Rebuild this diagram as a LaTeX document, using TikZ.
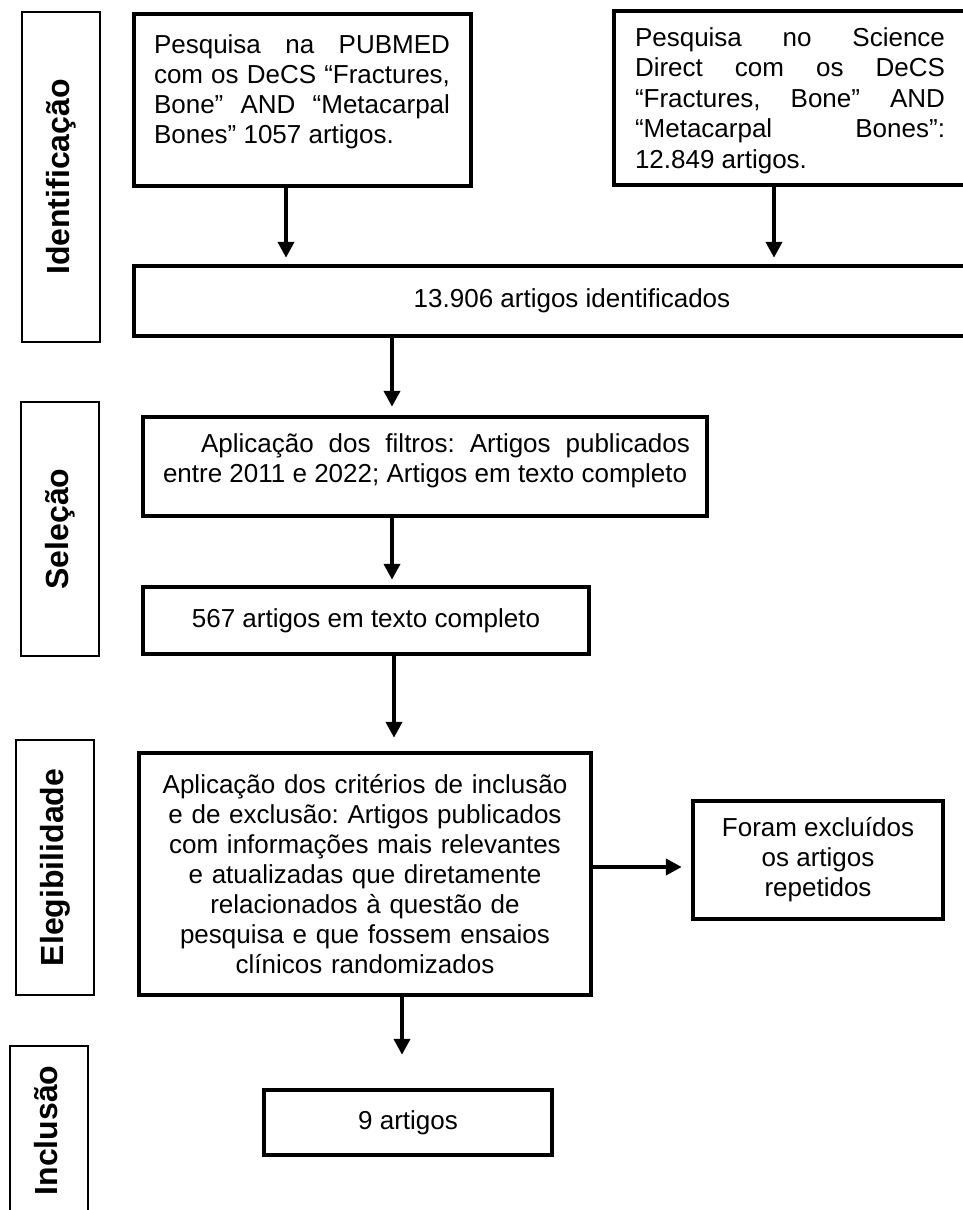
\documentclass[tikz,border=0pt]{standalone}
\usepackage{fontspec}
\setmainfont{Liberation Sans}
\usetikzlibrary{arrows.meta}
\frenchspacing
\begin{document}
\begin{tikzpicture}[x=1pt,y=-1pt,
  box/.style={draw, line width=4.5pt, rectangle, inner sep=0pt, font=\fontsize{26pt}{30pt}\selectfont},
  lab/.style={draw, line width=2pt, rectangle, inner sep=0pt, font=\fontsize{32pt}{36pt}\selectfont\bfseries},
  arr/.style={line width=4pt, -{Triangle[width=16pt,length=16pt]}}]
\useasboundingbox (0,0) rectangle (963,1210);
\clip (0,0) rectangle (963,1210);
\fill[white] (0,0) rectangle (963,1210);

% phase labels
\node[lab, minimum width=78pt, minimum height=330pt] (L1) at (61,177) {\rotatebox{90}{Identificação}};
\node[lab, minimum width=78pt, minimum height=254pt] (L2) at (60,529) {\rotatebox{90}{Seleção\vphantom{ç}}};
\node[lab, minimum width=78pt, minimum height=255pt] (L3) at (55,867.5) {\rotatebox{90}{Elegibilidade\vphantom{ç}}};
\node[lab, minimum width=78pt, minimum height=169pt] (L4) at (49,1130.5) {\rotatebox{90}{Inclusão\vphantom{ç}}};

% boxes
\node[box, minimum width=337pt, minimum height=172pt] (pub) at (302.5,100) {\parbox[c][172pt][t]{337pt}{\parindent=0pt\baselineskip=30pt
\hspace*{20pt}\makebox[296pt][s]{\rule{0pt}{39pt}Pesquisa na PUBMED}\par
\hspace*{20pt}\makebox[296pt][s]{com os DeCS “Fractures,}\par
\hspace*{20pt}\makebox[296pt][s]{Bone” AND “Metacarpal}\par
\hspace*{20pt}Bones” 1057 artigos.\par}};

\node[box, minimum width=354pt, minimum height=174pt] (sci) at (791,98) {\parbox[c][174pt][t]{354pt}{\parindent=0pt\baselineskip=30.5pt
\hspace*{21pt}\makebox[310pt][s]{\rule{0pt}{35pt}Pesquisa no Science}\par
\hspace*{21pt}\makebox[310pt][s]{Direct com os DeCS}\par
\hspace*{21pt}\makebox[310pt][s]{“Fractures, Bone” AND}\par
\hspace*{21pt}\makebox[310pt][s]{“Metacarpal Bones”:}\par
\hspace*{21pt}12.849 artigos.\par}};

\node[box, minimum width=876pt, minimum height=70pt] (ident) at (572,301) {13.906 artigos identificados};

\node[box, minimum width=564pt, minimum height=99pt] (filt) at (425,466.5) {\parbox[c][99pt][t]{564pt}{\parindent=0pt\baselineskip=30pt
\hspace*{58pt}\makebox[489pt][s]{\rule{0pt}{35pt}Aplicação dos filtros: Artigos publicados}\par
\hspace*{20pt}entre 2011 e 2022; Artigos em texto completo\par}};

\node[box, minimum width=446pt, minimum height=67pt] (c567) at (366,620.5) {567 artigos em texto completo};

\node[box, minimum width=452pt, minimum height=242pt, text width=440pt, align=center] (crit) at (365,874)
 {Aplicação dos critérios de inclusão\\e de exclusão: Artigos publicados\\com informações mais relevantes\\e atualizadas que diretamente\\relacionados à questão de\\pesquisa e que fossem ensaios\\clínicos randomizados};

\node[box, minimum width=250pt, minimum height=118pt, align=center] (foram) at (818,860) {Foram excluídos\\os artigos\\repetidos};

\node[box, minimum width=288pt, minimum height=65pt] (nine) at (408,1122.5) {9 artigos};

% connectors
\coordinate (xa) at (286,0);
\coordinate (xb) at (774,0);
\coordinate (xc) at (392,0);
\coordinate (xd) at (394,0);
\coordinate (xe) at (402,0);
\coordinate (ye) at (0,867);
\draw[arr, shorten >=6pt] (pub.south -| xa) -- (ident.north -| xa);
\draw[arr, shorten >=6pt] (sci.south -| xb) -- (ident.north -| xb);
\draw[arr, shorten >=8pt] (ident.south -| xc) -- (filt.north -| xc);
\draw[arr, shorten >=5pt] (filt.south -| xc) -- (c567.north -| xc);
\draw[arr, shorten >=13pt] (c567.south -| xd) -- (crit.north -| xd);
\draw[arr, shorten >=9pt] (crit.east |- ye) -- (foram.west |- ye);
\draw[arr, shorten >=33pt] (crit.south -| xe) -- (nine.north -| xe);
\end{tikzpicture}
\end{document}
